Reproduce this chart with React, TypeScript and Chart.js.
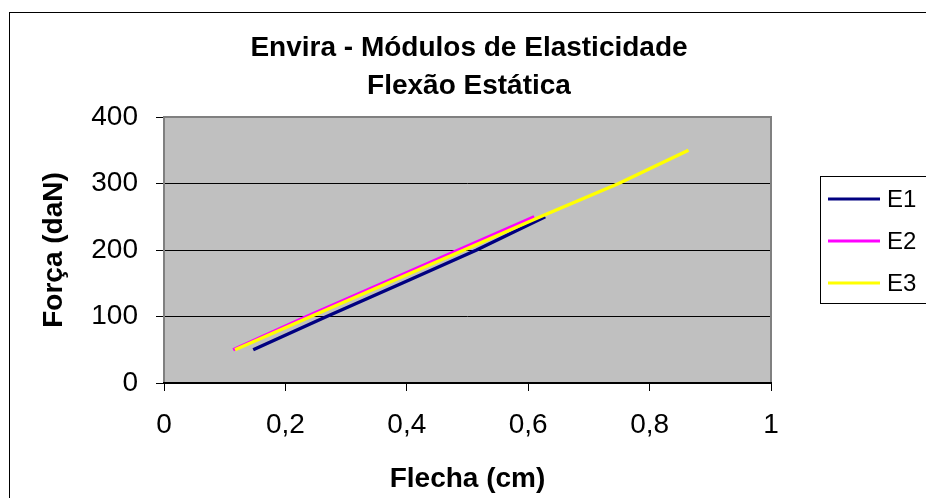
import { useEffect, useRef } from "react";
import { Chart, registerables } from "chart.js";

Chart.register(...registerables);

const FONT = "'Liberation Sans', Arial, Helvetica, sans-serif";

// Chart text
const titleLines = ["Envira - Módulos de Elasticidade", "Flexão Estática"];
const xAxisTitle = "Flecha (cm)";
const yAxisTitle = "Força (daN)";
const xTickLabels = ["0", "0,2", "0,4", "0,6", "0,8", "1"];
const yTickLabels = ["0", "100", "200", "300", "400"];

// Series: deflection (cm) vs. load (daN)
const seriesLabels = ["E1", "E2", "E3"];
const seriesColors = ["#000080", "#FF00FF", "#FFFF00"];

const flechaE1 = [0.147, 0.268, 0.392, 0.515, 0.628];
const forcaE1 = [50, 100, 150, 200, 250];

const flechaE2 = [0.114, 0.235, 0.36, 0.485, 0.61];
const forcaE2 = [50, 100, 150, 200, 250];

const flechaE3 = [0.117, 0.242, 0.368, 0.494, 0.62, 0.749, 0.864];
const forcaE3 = [50, 100, 150, 200, 250, 300, 350];

const seriesX = [flechaE1, flechaE2, flechaE3];
const seriesY = [forcaE1, forcaE2, forcaE3];

const framePlugin = {
  id: "excelFrame",
  beforeDraw(chart: any) {
    const { ctx, chartArea: a, width, height } = chart;
    ctx.save();
    ctx.fillStyle = "#ffffff";
    ctx.fillRect(0, 0, width, height);
    ctx.fillStyle = "#C0C0C0";
    ctx.fillRect(a.left, a.top, a.right - a.left, a.bottom - a.top);
    ctx.restore();
  },
  afterDraw(chart: any) {
    const { ctx, chartArea: a } = chart;
    ctx.save();
    // plot area frame
    ctx.strokeStyle = "#808080";
    ctx.lineWidth = 2;
    ctx.beginPath();
    ctx.moveTo(a.left, a.bottom);
    ctx.lineTo(a.left, a.top);
    ctx.lineTo(a.right, a.top);
    ctx.lineTo(a.right, a.bottom);
    ctx.stroke();
    ctx.strokeStyle = "#000000";
    ctx.beginPath();
    ctx.moveTo(a.left - 1, a.bottom);
    ctx.lineTo(a.right + 1, a.bottom);
    ctx.stroke();

    // outer chart border
    ctx.lineWidth = 1;
    ctx.strokeStyle = "#000000";
    ctx.strokeRect(9.5, 12.5, 940, 600);

    // title
    ctx.fillStyle = "#000000";
    ctx.textAlign = "center";
    ctx.textBaseline = "middle";
    ctx.font = `bold 28px ${FONT}`;
    ctx.fillText(titleLines[0], 469, 48);
    ctx.fillText(titleLines[1], 469, 86);

    // legend
    ctx.strokeStyle = "#000000";
    ctx.lineWidth = 1;
    ctx.strokeRect(820.5, 176.5, 140, 127);
    ctx.font = `24px ${FONT}`;
    ctx.textAlign = "left";
    chart.data.datasets.forEach((ds: any, i: number) => {
      const y = 199 + i * 42;
      ctx.strokeStyle = ds.borderColor;
      ctx.lineWidth = 3;
      ctx.beginPath();
      ctx.moveTo(828, y);
      ctx.lineTo(880, y);
      ctx.stroke();
      ctx.fillStyle = "#000000";
      ctx.fillText(ds.label, 887, y + 1);
    });
    ctx.restore();
  },
};

export default function App() {
  const canvasRef = useRef<HTMLCanvasElement | null>(null);

  useEffect(() => {
    const canvas = canvasRef.current;
    if (!canvas) return;

    const datasets = seriesLabels.map((label, i) => ({
      label,
      data: seriesX[i].map((x, j) => ({ x, y: seriesY[i][j] })),
      borderColor: seriesColors[i],
      backgroundColor: seriesColors[i],
      borderWidth: 3.5,
      pointRadius: 0,
      showLine: true,
      fill: false,
      tension: 0,
      order: seriesLabels.length - i,
    }));

    const chart = new Chart(canvas, {
      type: "scatter",
      data: { datasets },
      options: {
        animation: false,
        responsive: true,
        maintainAspectRatio: false,
        devicePixelRatio: 1,
        layout: { padding: { top: 117, right: 155, left: 37, bottom: 2 } },
        plugins: {
          legend: { display: false },
          title: { display: false },
          tooltip: { enabled: false },
        },
        scales: {
          x: {
            type: "linear",
            min: 0,
            max: 1,
            afterFit: (scale: any) => {
              scale.height = 113;
            },
            ticks: {
              stepSize: 0.2,
              color: "#000000",
              padding: 17,
              maxRotation: 0,
              font: { family: FONT, size: 28 },
              callback: (_v: any, i: number) => xTickLabels[i],
            },
            grid: {
              drawOnChartArea: false,
              drawTicks: true,
              tickLength: 8,
              color: "#000000",
              lineWidth: 1,
            },
            border: { display: false },
            title: {
              display: true,
              text: xAxisTitle,
              color: "#000000",
              padding: 0,
              font: { family: FONT, size: 28, weight: "bold" },
            },
          },
          y: {
            type: "linear",
            min: 0,
            max: 400,
            afterFit: (scale: any) => {
              scale.width = 127;
            },
            ticks: {
              stepSize: 100,
              color: "#000000",
              padding: 18,
              font: { family: FONT, size: 28 },
              callback: (_v: any, i: number) => yTickLabels[i],
            },
            grid: {
              drawOnChartArea: true,
              drawTicks: true,
              tickLength: 8,
              color: "#000000",
              lineWidth: 1,
            },
            border: { display: false },
            title: {
              display: true,
              text: yAxisTitle,
              color: "#000000",
              padding: 0,
              font: { family: FONT, size: 28, weight: "bold" },
            },
          },
        },
      },
      plugins: [framePlugin],
    });

    return () => {
      chart.destroy();
    };
  }, []);

  return (
    <div style={{ position: "absolute", left: 0, top: 0, width: 926, height: 498 }}>
      <canvas ref={canvasRef} />
    </div>
  );
}
